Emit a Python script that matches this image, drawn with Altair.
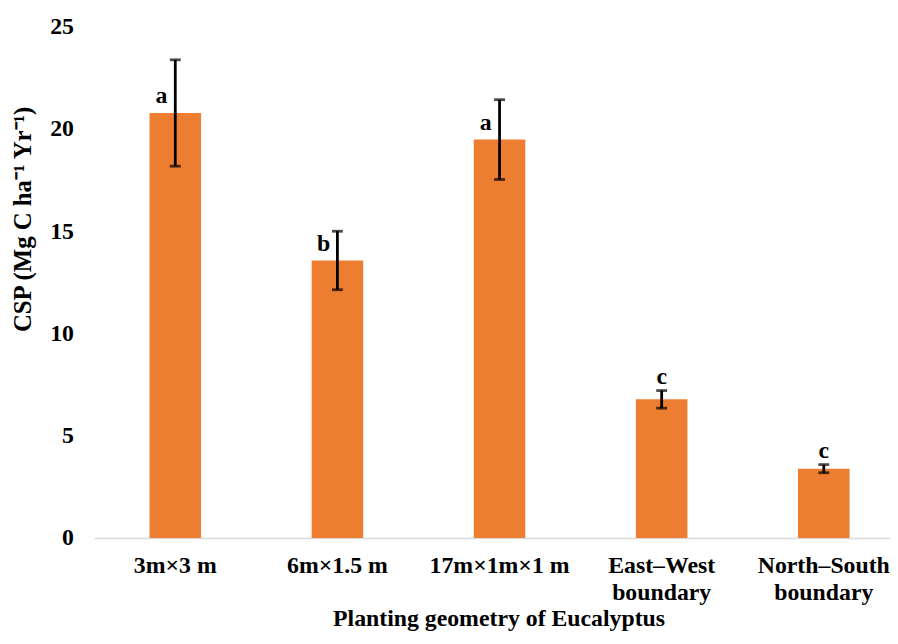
import altair as alt
import pandas as pd

categories = ["3m×3 m", "6m×1.5 m", "17m×1m×1 m", "East–West boundary", "North–South boundary"]
csp_mean = [20.78, 13.57, 19.48, 6.78, 3.39]
csp_err = [2.60, 1.43, 1.95, 0.43, 0.20]
letters = ["a", "b", "a", "c", "c"]

df = pd.DataFrame({"cat": categories, "mean": csp_mean, "err": csp_err, "letter": letters})
df["lo"] = df["mean"] - df["err"]
df["hi"] = df["mean"] + df["err"]

FONT = "Liberation Serif"
ORANGE = "#ED7D31"
YTITLE = "CSP (Mg C ha⁻¹ Yr⁻¹)"

xenc = alt.X(
    "cat:N",
    sort=categories,
    scale=alt.Scale(range=[0, 818], paddingInner=0, paddingOuter=0),
    title="Planting geometry of Eucalyptus",
    axis=alt.Axis(
        labelAngle=0,
        labelFont=FONT, labelFontSize=24, labelFontWeight="bold", labelColor="black",
        labelPadding=16, labelLineHeight=27,
        labelExpr="indexof(datum.label, ' boundary') > 0 ? [replace(datum.label, ' boundary', ''), 'boundary'] : datum.label",
        ticks=False, domainColor="#D9D9D9", domainWidth=1.5,
        titleFont=FONT, titleFontSize=24, titleFontWeight="bold", titleColor="black",
        titleX=408, titleY=88, titleAlign="center", titleBaseline="alphabetic",
    ),
)

yscale = alt.Scale(domain=[0, 25], nice=False)

base = alt.Chart(df)

bars = base.mark_bar(color=ORANGE, width=52).encode(
    x=xenc,
    y=alt.Y(
        "mean:Q",
        scale=yscale,
        title=YTITLE,
        axis=alt.Axis(
            values=[0, 5, 10, 15, 20, 25], grid=False, domain=False, ticks=False,
            labelFont=FONT, labelFontSize=24, labelFontWeight="bold", labelColor="black",
            labelPadding=21,
            titleFont=FONT, titleFontSize=25, titleFontWeight="bold", titleColor="black",
            titleAngle=270, titleX=-64, titleY=194, titleAlign="center", titleBaseline="alphabetic",
        ),
    ),
)

errs = base.mark_errorbar(ticks=True, size=11, thickness=2.8, color="black").encode(
    x=alt.X("cat:N", sort=categories),
    y=alt.Y("lo:Q", scale=yscale, title=YTITLE),
    y2="hi:Q",
)

txt_style = dict(font=FONT, fontSize=24, fontWeight="bold", color="black", baseline="alphabetic")

t1 = base.transform_filter(
    alt.FieldOneOfPredicate(field="cat", oneOf=categories[:3])
).mark_text(dx=-14, dy=-10, **txt_style).encode(
    x=alt.X("cat:N", sort=categories),
    y=alt.Y("mean:Q", scale=yscale, title=YTITLE),
    text="letter:N",
)

t2 = base.transform_filter(
    alt.FieldOneOfPredicate(field="cat", oneOf=categories[3:])
).mark_text(dy=-7, **txt_style).encode(
    x=alt.X("cat:N", sort=categories),
    y=alt.Y("hi:Q", scale=yscale, title=YTITLE),
    text="letter:N",
)

chart = alt.layer(bars, errs, t1, t2).properties(
    width=803,
    height=516,
    autosize=alt.AutoSizeParams(type="none"),
    padding={"left": 87, "top": 16, "right": 0, "bottom": 96},
    background="white",
).configure_view(stroke=None)

chart.save("out.html", embed_options={"renderer": "svg", "actions": False})
